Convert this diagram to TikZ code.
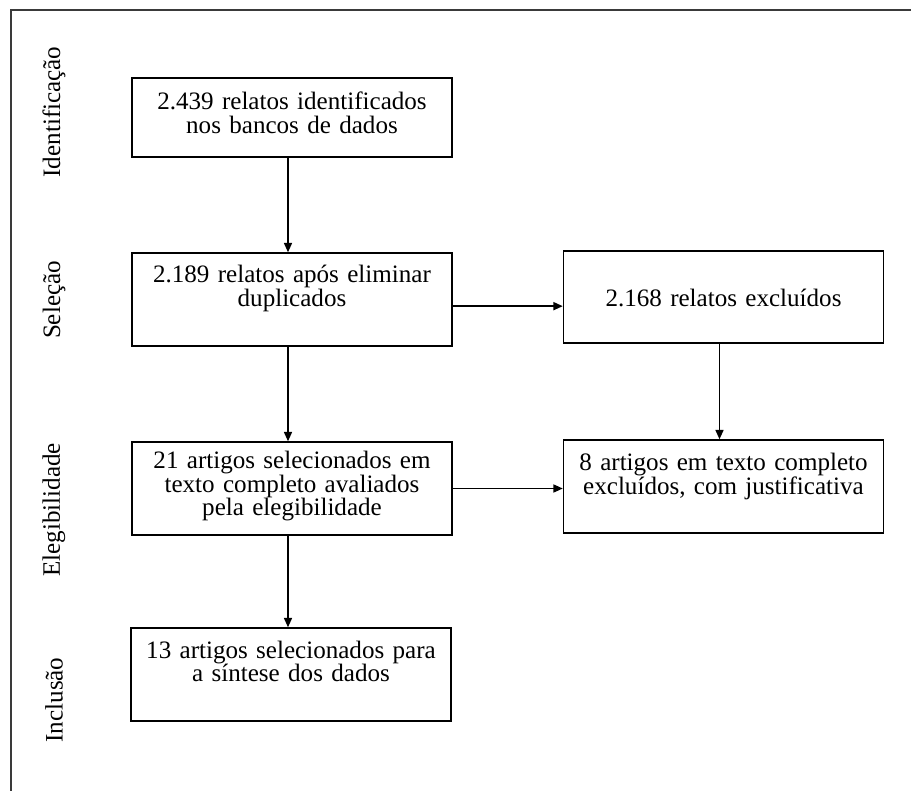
\documentclass[tikz,border=0pt]{standalone}
\usepackage{fontspec}
\setmainfont{Liberation Serif}
\usetikzlibrary{arrows.meta}
\definecolor{DGray}{HTML}{3A3A3A}
\newcommand{\FlowFont}{\fontsize{18.8pt}{17.6pt}\selectfont}

\begin{document}
\begin{tikzpicture}[x=0.75pt, y=-0.75pt,
    box/.style={draw, line width=1.1pt, inner sep=0pt, text width=240pt, align=center, font=\FlowFont},
    flow/.style={line width=1.2pt, -{Triangle[length=7pt, width=6pt]}},
    phase/.style={rotate=90, inner sep=0pt, font=\FlowFont}]
\useasboundingbox (0,0) rectangle (911,791);

% frame
\draw[DGray, line width=1.5pt] (11,791) -- (11,10) -- (911,10);

% phases
\node[phase] (phase-id)   at (54,112) {Identificação};
\node[phase] (phase-sel)  at (54,300) {Seleção};
\node[phase] (phase-eleg) at (54,510) {Elegibilidade};
\node[phase] (phase-incl) at (54,700) {Inclusão};

% boxes
\node[box, text height=24pt, text depth=35.25pt] (id-report) at (292,117.5)
    {2.439 relatos identificados\\nos bancos de dados};
\node[box, text height=22.5pt, text depth=47.25pt] (sel-report) at (292,299.5)
    {2.189 relatos após eliminar\\duplicados};
\node[box, text height=42pt, text depth=27pt] (sel-excluded) at (723.5,297)
    {2.168 relatos excluídos};
\node[box, text height=20.25pt, text depth=49.5pt] (eleg-article) at (292,488.5)
    {21 artigos selecionados em\\texto completo avaliados\\pela elegibilidade};
\node[box, text height=23.25pt, text depth=46.5pt] (eleg-excluded) at (723.5,486.5)
    {8 artigos em texto completo\\excluídos, com justificativa};
\node[box, text height=22.5pt, text depth=47.25pt] (incl-article) at (291,674.5)
    {13 artigos selecionados para\\a síntese dos dados};

% arrows
\draw[flow] ([xshift=-3pt]id-report.south) -- ([xshift=-3pt]id-report.south |- sel-report.north);
\draw[flow] ([xshift=-3pt]sel-report.south) -- ([xshift=-3pt]sel-report.south |- eleg-article.north);
\draw[flow] ([xshift=-3pt]eleg-article.south) -- ([xshift=-3pt]eleg-article.south |- incl-article.north);
\draw[flow] ([yshift=-5pt]sel-report.east) -- ([yshift=-5pt]sel-report.east -| sel-excluded.west);
\draw[flow] ([xshift=-3pt]sel-excluded.south) -- ([xshift=-3pt]sel-excluded.south |- eleg-excluded.north);
\draw[flow] (eleg-article.east) -- (eleg-article.east -| eleg-excluded.west);
\end{tikzpicture}
\end{document}
